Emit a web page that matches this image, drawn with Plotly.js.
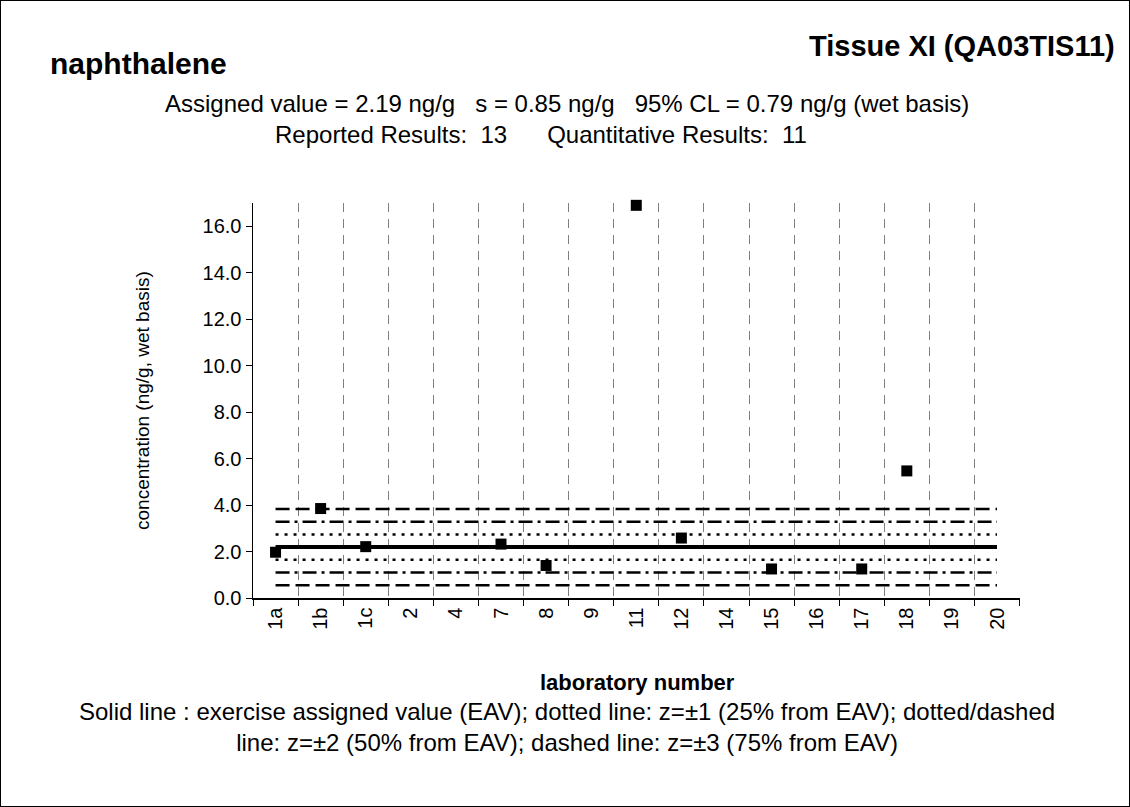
<!DOCTYPE html>
<html><head><meta charset="utf-8">
<script src="https://cdn.plot.ly/plotly-3.0.1.min.js"></script>
<style>html,body{margin:0;padding:0;background:#fff}#c{width:1128px;height:805px;border:1px solid #000}</style>
</head><body><div id="c"></div>
<script>
const labs = ["1a","1b","1c","2","4","7","8","9","11","12","14","15","16","17","18","19","20"];
const resultLabs = ["1a","1b","1c","7","8","11","12","15","17","18"];
const resultValues = [1.97, 3.85, 2.21, 2.32, 1.40, 16.9, 2.58, 1.25, 1.25, 5.47];
const assigned = 2.19;
const zLevels = [0.25, 0.50, 0.75];

const F = '"Liberation Sans", Arial, sans-serif';
const ends = [labs[0], labs[labs.length-1]];
const traces = [];
const styles = [
  {w:2.5, dash:'3px,6px'},
  {w:2.5, dash:'14px,5px,3px,5px'},
  {w:2.5, dash:'14px,6px'}
];
zLevels.forEach((z,i)=>{
  [1,-1].forEach(s=>{
    const v = assigned*(1+s*z);
    traces.push({x:ends, y:[v,v], mode:'lines', line:{color:'#000', width:styles[i].w, dash:styles[i].dash}, hoverinfo:'skip', showlegend:false, cliponaxis:false});
  });
});
traces.push({x:ends, y:[assigned,assigned], mode:'lines', line:{color:'#000', width:4}, showlegend:false});
traces.push({x:resultLabs, y:resultValues, mode:'markers', marker:{symbol:'square', size:11, color:'#000'}, showlegend:false, cliponaxis:false});

const px = p => (p-252)/767, py = p => (597-p)/395;
const layout = {
  width:1128, height:805,
  margin:{l:252, r:109, t:202, b:208},
  paper_bgcolor:'#fff', plot_bgcolor:'#fff',
  font:{family:F, color:'#000', size:20},
  showlegend:false,
  xaxis:{type:'category', categoryarray:labs, categoryorder:'array', range:[-0.5,16.51],
    tickson:'boundaries', showgrid:true, gridcolor:'#808080', gridwidth:1, griddash:'9px,7px',
    ticks:'outside', ticklen:6, tickcolor:'#000', tickangle:-90, tickfont:{size:20, family:F},
    showline:true, linecolor:'#000', linewidth:1.5, zeroline:false, fixedrange:true},
  yaxis:{range:[0,17], dtick:2, tick0:0, tickformat:'.1f', showgrid:false, zeroline:false,
    ticks:'outside', ticklen:6, tickcolor:'#000', tickfont:{size:20, family:F},
    showline:true, linecolor:'#000', linewidth:1.5},
  annotations:[
    {xref:'paper', yref:'paper', x:px(47), y:py(62), xanchor:'left', yanchor:'middle', showarrow:false, text:'<b>naphthalene</b>', font:{size:30, family:F}},
    {xref:'paper', yref:'paper', x:px(1116), y:py(45), xanchor:'right', yanchor:'middle', showarrow:false, text:'<b>Tissue XI (QA03TIS11)</b>', font:{size:29, family:F}},
    {xref:'paper', yref:'paper', x:px(566), y:py(102), xanchor:'center', yanchor:'middle', showarrow:false, text:'Assigned value = 2.19 ng/g\u00A0\u00A0\u00A0s = 0.85 ng/g\u00A0\u00A0\u00A095% CL = 0.79 ng/g (wet basis)', font:{size:24, family:F}},
    {xref:'paper', yref:'paper', x:px(540), y:py(133), xanchor:'center', yanchor:'middle', showarrow:false, text:'Reported Results:\u00A0\u00A013\u00A0\u00A0\u00A0\u00A0\u00A0\u00A0Quantitative Results:\u00A0\u00A011', font:{size:24, family:F}},
    {xref:'paper', yref:'paper', x:px(141), y:py(400), xanchor:'center', yanchor:'middle', textangle:-90, showarrow:false, text:'concentration (ng/g, wet basis)', font:{size:19, family:F}},
    {xref:'paper', yref:'paper', x:px(636), y:py(681), xanchor:'center', yanchor:'middle', showarrow:false, text:'<b>laboratory number</b>', font:{size:22, family:F}},
    {xref:'paper', yref:'paper', x:px(566), y:py(726), xanchor:'center', yanchor:'middle', align:'center', showarrow:false, text:'Solid line : exercise assigned value (EAV); dotted line: z=±1 (25% from EAV); dotted/dashed<br>line: z=±2 (50% from EAV); dashed line: z=±3 (75% from EAV)', font:{size:24, family:F}}
  ]
};
Plotly.newPlot('c', traces, layout, {displayModeBar:false, staticPlot:true});
</script></body></html>
